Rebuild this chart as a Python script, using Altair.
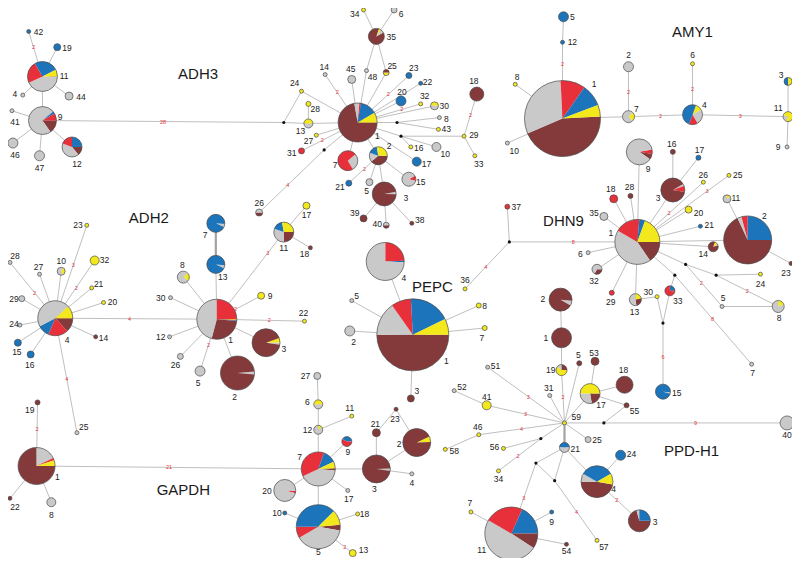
import math
import altair as alt
import pandas as pd

# Haplotype categories (pie slice colours)
CATS = ["B", "G", "R", "U", "Y"]
COLS = ["#843a3b", "#c9c9ca", "#e8303a", "#1c74ba", "#f3e81c"]

# node rows: (id, x, y, radius, label_x, label_y, start_angle_deg, slices)
ADH3 = [
    ("42", 23, 26, 2, 33, 27, 90, "U"), ("19", 52, 42, 3.5, 62, 43, 90, "U"),
    ("11", 37, 72, 15, 59, 71, 90, "B3 G152 R85 U93 Y27"), ("4", 17, 91, 2, 9, 90, 90, "G"),
    ("44", 64, 92, 4, 76, 93, 90, "G"), ("9", 37, 117, 14, 55, 113, 90, "B55 G265 U10 R30"),
    ("41", 6, 107, 2, 9, 118, 90, "G"), ("46", 7, 140, 5, 9, 152, 90, "G"),
    ("47", 34, 153, 5, 34, 165, 90, "G"), ("12", 67, 144, 10, 72, 161, 90, "B50 G150 R70 U90"),
    ("24", 300, 87, 2, 293, 79, 90, "Y"), ("28", 307, 100, 2.5, 314, 105, 90, "Y"),
    ("13", 307, 120, 4.5, 299, 128, 90, "G180 Y180"), ("27", 315, 132, 2, 307, 138, 90, "Y"),
    ("31", 300, 148, 3, 290, 150, 90, "R"), ("14", 324, 70, 2, 323, 62, 90, "G"),
    ("45", 351, 75, 4, 350, 64, 90, "G"), ("48", 366, 66, 2, 372, 72, 90, "G"),
    ("35", 376, 31, 8, 391, 32, 60, "B320 Y15 G25"), ("34", 363, 4, 2, 354, 8, 90, "Y"),
    ("6", 394, 4, 3, 401, 8, 90, "G"), ("25", 386, 68, 3, 392, 61, 90, "Y180 B180"),
    ("1", 357, 119, 19.5, 377, 133, 90, "B260 G15 R5 U50 Y30"),
    ("7", 347, 158, 10, 334, 162, 50, "G100 R260"),
    ("2", 378, 153, 9, 389, 143, 90, "B140 G60 U60 Y100"),
    ("21", 348, 181, 3, 339, 185, 90, "U"), ("5", 369, 180, 3.5, 366, 189, 90, "G"),
    ("3", 384, 192, 12, 406, 196, 80, "G12 B348"), ("23", 409, 71, 3, 414, 63, 90, "U"),
    ("22", 421, 79, 2, 428, 78, 90, "U"), ("20", 401, 97, 5, 402, 88, 90, "U"),
    ("32", 421, 100, 2, 425, 92, 90, "Y"), ("30", 435, 102, 4, 445, 102, 90, "G200 Y160"),
    ("8", 440, 114, 2, 447, 115, 90, "G"), ("43", 439, 126, 2, 447, 126, 90, "Y"),
    ("29", 465, 133, 2, 475, 132, 90, "Y"), ("18", 478, 90, 7, 475, 77, 90, "B"),
    ("33", 476, 153, 2, 480, 161, 90, "Y"), ("16", 411, 144, 2, 419, 145, 90, "Y"),
    ("10", 437, 144, 4.5, 446, 151, 90, "G"), ("17", 417, 159, 4.5, 427, 161, 90, "U"),
    ("15", 409, 177, 7, 421, 180, 60, "R45 G315"), ("39", 363, 217, 3.5, 354, 211, 90, "B"),
    ("40", 386, 224, 3, 377, 223, 90, "B180 G180"), ("38", 412, 222, 2, 420, 219, 90, "B"),
    ("26", 257, 211, 3.5, 257, 201, 90, "B180 G180"),
]
ADH3_MED = [("m1", 282, 119), ("m2", 323, 147), ("m3", 401, 133), ("m4", 397, 119)]
ADH3_EDGES = [
    ("11", "42", "2", 0.65), ("11", "19"), ("11", "4"), ("11", "44"), ("11", "9"),
    ("9", "41"), ("9", "46"), ("9", "47"), ("9", "12"), ("9", "m1", "28", 0.5),
    ("m1", "24"), ("m1", "13"), ("24", "1"), ("13", "28"), ("13", "1"),
    ("1", "27"), ("1", "31", "2", 0.63), ("1", "m2"), ("m2", "26", "4", 0.56),
    ("1", "14", "2", 0.63), ("1", "45"), ("1", "48"), ("48", "35"), ("1", "25"), ("25", "35"),
    ("35", "34"), ("35", "6"), ("1", "23", "2", 0.6), ("1", "22"), ("1", "20"),
    ("1", "32", "2", 0.7), ("1", "30"), ("1", "m4"), ("m4", "8"), ("m4", "43"), ("1", "m3"),
    ("m3", "29"), ("29", "18", "2", 0.5), ("29", "33"), ("m3", "10"), ("m3", "16"),
    ("1", "17"), ("1", "2"), ("2", "15"), ("2", "3"), ("2", "21", "2", 0.47), ("2", "5"),
    ("1", "7"), ("3", "39"), ("3", "40"), ("3", "38"),
]

ADH2 = [
    ("4", 50, 319, 17.5, 62, 341, 90, "B47 R66 U40 G165 Y42"),
    ("23", 82, 224, 2, 73, 224, 90, "Y"), ("10", 56, 271, 4, 56, 261, 30, "Y120 G240"),
    ("32", 90, 260, 4.5, 100, 260, 90, "Y"), ("21", 87, 288, 2, 94, 284, 90, "Y"),
    ("20", 99, 303, 2, 108, 302, 90, "Y"), ("14", 91, 338, 2, 99, 339, 90, "B"),
    ("28", 4, 262, 2, 9, 255, 90, "G"), ("27", 34, 274, 2, 33, 267, 90, "G"),
    ("29", 16, 299, 3, 8, 299, 90, "G"), ("24", 14, 326, 2, 8, 325, 90, "G"),
    ("15", 12, 344, 3.5, 11, 354, 90, "U"), ("16", 25, 356, 3.5, 24, 367, 90, "U"),
    ("25", 72, 436, 2, 79, 430, 90, "G"),
    ("1", 214, 320, 20, 228, 341, 90, "Y3 U2 B100 G165 R90"),
    ("7", 213, 222, 9, 202, 234, 95, "G20 U340"), ("13", 213, 264, 9, 220, 277, 95, "G20 U340"),
    ("11", 282, 231, 10, 282, 247, 90, "B90 G110 U60 Y100"),
    ("17", 305, 204, 3.5, 305, 214, 90, "Y"), ("18", 309, 247, 2, 303, 253, 90, "B"),
    ("9", 259, 296, 3.5, 268, 296, 90, "Y"), ("22", 303, 322, 2, 302, 314, 90, "Y"),
    ("3", 264, 344, 14, 282, 350, 70, "Y20 G8 B332"), ("2", 235, 375, 17, 232, 399, 85, "G10 B350"),
    ("8", 180, 277, 6, 179, 265, 45, "Y80 G280"), ("30", 167, 298, 2, 157, 298, 90, "G"),
    ("12", 166, 338, 2, 157, 338, 90, "G"), ("26", 177, 358, 3, 172, 367, 90, "G"),
    ("5", 197, 373, 5, 195, 385, 90, "G"),
]
ADH2_MED = []
ADH2_EDGES = [
    ("4", "23", "3", 0.57), ("4", "10"), ("4", "32", "2", 0.53), ("4", "21"), ("4", "20"),
    ("4", "14"), ("4", "28", "2", 0.46), ("4", "27"), ("4", "29"), ("4", "24"), ("4", "15"),
    ("4", "16"), ("4", "25", "4", 0.53), ("4", "1", "4", 0.46), ("1", "8"), ("1", "30"),
    ("1", "12"), ("1", "26"), ("1", "5", "2", 0.5), ("1", "2"), ("1", "3"), ("1", "9", "2", 0.42),
    ("1", "22", "2", 0.6), ("1", "11", "3", 0.76), ("1", "13"), ("13", "7", None, 0.5, 2.2),
    ("11", "17"), ("11", "18"),
]

AMY1 = [
    ("5", 566, 11, 5, 575, 11, 90, "U"), ("12", 565, 37, 2, 575, 37, 90, "U"),
    ("1", 565, 115, 38, 597, 80, 87, "B160 G110 R38 U34 Y18"),
    ("8", 517, 80, 2, 519, 72, 90, "Y"), ("10", 509, 140, 2, 516, 148, 90, "G"),
    ("7", 632, 113, 6, 640, 105, 45, "Y90 G270"), ("2", 632, 62, 5, 632, 50, 90, "G"),
    ("4", 697, 111, 10, 709, 101, 20, "Y40 G90 R50 U180"), ("6", 697, 59, 2, 697, 50, 90, "Y"),
    ("11", 794, 113, 5, 784, 104, 200, "G90 Y270"), ("3", 794, 77, 4, 787, 70, 0, "Y180 U180"),
    ("9", 793, 144, 2, 784, 144, 90, "G"),
]
AMY1_MED = []
AMY1_EDGES = [
    ("5", "12"), ("12", "1", "2", 0.28), ("1", "8"), ("1", "10"), ("1", "7"),
    ("7", "2", "2", 0.5), ("7", "4", "2", 0.5), ("4", "6", "2", 0.5), ("4", "11", "3", 0.5),
    ("11", "3"), ("11", "9"),
]

DHN9 = [
    ("9", 643, 149, 13, 652, 167, 80, "R20 B25 G315"), ("16", 677, 149, 2.5, 676, 141, 90, "B"),
    ("17", 703, 155, 2.5, 704, 147, 90, "U"), ("3", 677, 188, 12, 662, 196, 60, "G10 R30 B320"),
    ("26", 708, 180, 2, 708, 173, 90, "Y"), ("25", 734, 173, 2, 743, 173, 90, "Y"),
    ("18", 617, 197, 4, 614, 187, 90, "R"), ("28", 634, 194, 2.5, 633, 185, 90, "B"),
    ("35", 607, 215, 4, 597, 211, 90, "G"),
    ("1", 641, 241, 22.5, 614, 232, 90, "B56 G154 R65 U15 Y70"),
    ("2", 753, 239, 24, 770, 215, 90, "B245 G10 R15 U90"),
    ("11", 732, 197, 4, 741, 196, 0, "Y60 G300"), ("20", 693, 208, 3.5, 703, 211, 90, "Y"),
    ("21", 705, 225, 2, 714, 224, 90, "U"), ("14", 718, 246, 5, 708, 253, 20, "Y40 G15 B305"),
    ("23", 797, 263, 2, 792, 273, 90, "B"), ("24", 766, 274, 2, 766, 284, 90, "Y"),
    ("5", 727, 307, 2, 728, 298, 90, "G"), ("8", 784, 307, 6, 785, 319, 0, "Y70 G290"),
    ("7", 757, 366, 2, 758, 375, 90, "G"), ("33", 674, 291, 5, 682, 301, 0, "U80 B20 R260"),
    ("30", 661, 297, 2, 652, 292, 90, "Y"), ("13", 639, 300, 6, 638, 313, 0, "Y80 B90 G190"),
    ("29", 615, 293, 2.5, 614, 302, 90, "R"), ("32", 600, 269, 5, 597, 281, 90, "B120 G240"),
    ("6", 591, 252, 2, 583, 253, 90, "G"), ("36", 466, 289, 2, 466, 280, 90, "Y"),
    ("37", 509, 205, 2.5, 518, 205, 90, "R"),
]
DHN9_MED = [("m5", 690, 264), ("m6", 721, 275), ("m7", 679, 275), ("m8", 667, 324), ("m9", 511, 241)]
DHN9_EDGES = [
    ("m9", "37"), ("m9", "36", "4", 0.53), ("m9", "1", "8", 0.5), ("1", "35"), ("1", "18"),
    ("1", "28"), ("1", "3"), ("3", "16"), ("3", "17"), ("1", "9"), ("1", "25", "3", 0.76),
    ("1", "26", "2", 0.48), ("1", "20"), ("1", "21"), ("1", "14"), ("1", "2"), ("2", "11"),
    ("2", "23"), ("1", "m5"), ("m5", "m6"), ("m6", "24"), ("m6", "8", "2", 0.5),
    ("m5", "5", "2", 0.43), ("5", "8"), ("1", "m7"), ("m7", "7", "8", 0.49), ("m7", "33"),
    ("33", "m8"), ("30", "m8"), ("13", "30"), ("1", "13"), ("1", "29"), ("1", "32"), ("1", "6"),
]

PEPC = [
    ("4", 385, 261, 19, 404, 278, 0, "R88 U4 G268"),
    ("1", 413, 336, 36, 447, 363, 90, "B180 G55 R32 U67 Y26"),
    ("5", 351, 301, 2, 356, 296, 90, "G"), ("2", 349, 332, 5, 353, 343, 90, "G"),
    ("8", 480, 306, 2.5, 486, 306, 90, "Y"), ("7", 486, 329, 2.5, 483, 339, 90, "Y"),
    ("3", 411, 401, 3.5, 417, 393, 90, "B"),
]
PEPC_MED = []
PEPC_EDGES = [("1", "4"), ("1", "5"), ("1", "2"), ("1", "8"), ("1", "7"), ("1", "3")]

GAPDH = [
    ("1", 31, 470, 18.5, 52, 481, 90, "B270 G64 R8 Y18"),
    ("19", 32, 405, 2.5, 24, 413, 90, "B"), ("22", 4, 503, 2, 9, 512, 90, "B"),
    ("8", 46, 507, 4.5, 46, 520, 90, "G"),
    ("7", 317, 473, 17, 298, 461, 88, "B7 G150 R135 U45 Y23"),
    ("27", 316, 378, 3.5, 304, 378, 90, "G"), ("6", 317, 407, 4.5, 306, 405, 90, "G180 Y180"),
    ("11", 351, 419, 2, 349, 411, 90, "Y"), ("12", 317, 433, 4.5, 306, 433, 0, "Y60 G300"),
    ("9", 346, 445, 5, 347, 456, 300, "U150 R210"), ("20", 283, 495, 11, 265, 496, 92, "R12 G348"),
    ("17", 347, 495, 2, 348, 504, 90, "G"),
    ("5", 317, 532, 22, 317, 558, 85, "B15 G140 R30 U135 Y40"),
    ("10", 283, 518, 2, 275, 518, 90, "U"), ("18", 357, 519, 2, 364, 519, 90, "Y"),
    ("13", 352, 559, 3.5, 363, 556, 90, "Y"), ("3", 376, 473, 14, 374, 493, 88, "G10 B350"),
    ("21", 376, 436, 4, 375, 427, 90, "B"), ("23", 396, 412, 2, 395, 422, 90, "B"),
    ("2", 417, 446, 14, 399, 448, 65, "Y23 B337"), ("4", 412, 478, 2, 412, 487, 90, "G"),
]
GAPDH_MED = []
GAPDH_EDGES = [
    ("1", "19", "2", 0.58), ("1", "22"), ("1", "8"), ("1", "7", "21", 0.47), ("7", "12"),
    ("12", "6"), ("6", "27"), ("12", "11"), ("7", "9"), ("7", "20"), ("7", "17"), ("7", "5"),
    ("5", "10"), ("5", "18"), ("5", "13", "2", 0.77), ("7", "3"), ("3", "21"), ("21", "23"),
    ("23", "2"), ("3", "2"), ("3", "4"),
]

PPDH1 = [
    ("2", 563, 300, 11.5, 545, 299, 95, "G25 B335"), ("1", 564, 339, 10, 548, 339, 90, "B"),
    ("19", 564, 372, 5.5, 553, 372, 0, "B90 Y220 G50"), ("5", 582, 365, 2.5, 581, 357, 90, "B"),
    ("53", 598, 363, 4, 597, 355, 90, "B"), ("17", 593, 396, 10, 604, 408, 90, "B80 G100 Y180"),
    ("18", 628, 387, 8.5, 627, 372, 90, "B"), ("55", 630, 408, 2.5, 638, 414, 90, "B"),
    ("15", 667, 394, 7.5, 681, 395, 95, "G12 U348"), ("59", 567, 426, 2, 579, 420, 90, "Y"),
    ("40", 793, 426, 7, 793, 438, 90, "G"), ("25", 591, 443, 3, 600, 443, 90, "G"),
    ("31", 552, 398, 2, 551, 390, 90, "G"), ("52", 455, 393, 2, 463, 389, 90, "G"),
    ("51", 489, 369, 2, 497, 368, 90, "G"), ("41", 488, 408, 4.5, 488, 399, 90, "Y"),
    ("46", 480, 438, 2, 479, 430, 90, "Y"), ("58", 446, 453, 2, 455, 455, 90, "Y"),
    ("56", 505, 452, 2, 496, 451, 90, "Y"), ("34", 500, 475, 2, 500, 483, 90, "Y"),
    ("21", 567, 451, 5, 578, 453, 270, "U180 G180"),
    ("4", 600, 486, 16, 617, 494, 100, "B170 G30 U120 Y40"),
    ("24", 624, 459, 5, 635, 458, 90, "U"), ("3", 643, 526, 11, 659, 527, 90, "B255 G15 U90"),
    ("11", 513, 539, 26.5, 483, 556, 24, "U66 B33 G177 R84"),
    ("7", 472, 517, 2, 471, 508, 90, "Y"), ("9", 554, 517, 2, 554, 527, 90, "U"),
    ("54", 569, 550, 2, 569, 557, 90, "B"), ("57", 600, 546, 2, 607, 553, 90, "Y"),
]
PPDH1_MED = [("m10", 607, 426), ("m11", 543, 442), ("m12", 538, 467), ("m13", 557, 485)]
PPDH1_EDGES = [
    ("2", "1"), ("1", "19"), ("19", "59", "2", 0.5), ("59", "5"), ("17", "53"), ("59", "17"),
    ("17", "18"), ("17", "55"), ("55", "m10"), ("59", "m10"), ("m10", "40", "9", 0.5),
    ("59", "31"), ("59", "51", "3", 0.47), ("52", "41"), ("41", "59", "3", 0.5), ("58", "46"),
    ("46", "59", "4", 0.5), ("56", "m11"), ("34", "m11", "2", 0.46), ("m11", "59"),
    ("59", "25"), ("59", "21", None, 0.5, 2.2), ("21", "m12"), ("21", "m13"), ("m12", "m13"),
    ("m12", "11", "3", 0.49), ("m13", "57", "4", 0.52), ("21", "4"), ("11", "7"), ("11", "9"),
    ("11", "54"), ("4", "24"), ("4", "3", "2", 0.47),
]

# link from the DHN9 network's median vector down to PPD-H1 haplotype 15
CROSS_EDGES = [("DHN9:m8", "PPD-H1:15", "6", 0.5)]

TITLES = ["ADH3", "ADH2", "AMY1", "DHN9", "PEPC", "GAPDH", "PPD-H1"]
TITLE_X = [195, 145, 697, 566, 433, 180, 696]
TITLE_Y = [69, 217, 27, 220, 287, 495, 455]

GENES = [
    ("ADH3", ADH3, ADH3_MED, ADH3_EDGES), ("ADH2", ADH2, ADH2_MED, ADH2_EDGES),
    ("AMY1", AMY1, AMY1_MED, AMY1_EDGES), ("DHN9", DHN9, DHN9_MED, DHN9_EDGES),
    ("PEPC", PEPC, PEPC_MED, PEPC_EDGES), ("GAPDH", GAPDH, GAPDH_MED, GAPDH_EDGES),
    ("PPD-H1", PPDH1, PPDH1_MED, PPDH1_EDGES),
]

# ---- build tables ----
node_rows, slice_rows, med_rows, edge_rows = [], [], [], []
pos = {}
for gene, nodes, meds, edges in GENES:
    for nid, x, y, r, lx, ly, start, sl in nodes:
        key = f"{gene}:{nid}"
        pos[key] = (x, y)
        node_rows.append(dict(key=key, label=nid, x=x, y=y, r=r, lx=lx, ly=ly))
        for i, tok in enumerate(sl.split()):
            val = float(tok[1:]) if len(tok) > 1 else 1.0
            slice_rows.append(dict(key=key, x=x, y=y, r=r, start=start, order=i, cat=tok[0], val=val))
    for mid, x, y in meds:
        pos[f"{gene}:{mid}"] = (x, y)
        med_rows.append(dict(x=x, y=y))
    for e in edges:
        a, b = e[0], e[1]
        lab = e[2] if len(e) > 2 else None
        t = e[3] if len(e) > 3 else 0.5
        w = e[4] if len(e) > 4 else 0.7
        edge_rows.append((f"{gene}:{a}", f"{gene}:{b}", lab, t, w))
for a, b, lab, t in CROSS_EDGES:
    edge_rows.append((a, b, lab, t, 0.7))

edges_df = pd.DataFrame([
    dict(x=pos[a][0], y=pos[a][1], x2=pos[b][0], y2=pos[b][1], lab=lab or "", t=t, w=w)
    for a, b, lab, t, w in edge_rows
])
nodes_df = pd.DataFrame(node_rows)
slices_df = pd.DataFrame(slice_rows)
meds_df = pd.DataFrame(med_rows)
titles_df = pd.DataFrame(dict(text=TITLES, x=TITLE_X, y=TITLE_Y))

XS = alt.Scale(domain=[2, 798], nice=False, zero=False)
YS = alt.Scale(domain=[2, 564], nice=False, zero=False, reverse=True)
FONT = "Liberation Sans"


def X(f):
    return alt.X(f"{f}:Q", scale=XS, axis=None)


def Y(f):
    return alt.Y(f"{f}:Q", scale=YS, axis=None)


edges = alt.Chart(edges_df).mark_rule(color="#a3a3a3").encode(
    x=X("x"), y=Y("y"), x2="x2:Q", y2="y2:Q",
    strokeWidth=alt.StrokeWidth("w:Q", scale=None),
)

mut = alt.Chart(edges_df).transform_filter("datum.lab != ''").transform_calculate(
    mx="datum.x + (datum.x2 - datum.x) * datum.t",
    my="datum.y + (datum.y2 - datum.y) * datum.t",
).mark_text(fontSize=5.5, color="#e8303a", font=FONT).encode(
    x=X("mx"), y=Y("my"), text="lab:N"
)

pies = alt.Chart(slices_df).transform_joinaggregate(
    total="sum(val)", groupby=["key"]
).transform_window(
    cum="sum(val)", groupby=["key"], sort=[alt.SortField("order")], frame=[None, 0]
).transform_calculate(
    t2="datum.start * PI / 180 + datum.cum / datum.total * 2 * PI",
    t1="datum.start * PI / 180 + (datum.cum - datum.val) / datum.total * 2 * PI",
).mark_arc().encode(
    x=X("x"), y=Y("y"),
    theta=alt.Theta("t1:Q", scale=None, stack=None), theta2="t2:Q",
    radius=alt.Radius("r:Q", scale=None, stack=None),
    color=alt.Color("cat:N", scale=alt.Scale(domain=CATS, range=COLS), legend=None),
)

rings = alt.Chart(nodes_df).mark_arc(
    theta=0, theta2=2 * math.pi, fillOpacity=0, stroke="#4a4a4a", strokeWidth=0.7
).encode(x=X("x"), y=Y("y"), radius=alt.Radius("r:Q", scale=None, stack=None))

meds = alt.Chart(meds_df).mark_circle(size=10, color="#111111", opacity=1).encode(
    x=X("x"), y=Y("y")
)

labels = alt.Chart(nodes_df).mark_text(fontSize=8.5, color="#222222", font=FONT).encode(
    x=X("lx"), y=Y("ly"), text="label:N"
)

titles = alt.Chart(titles_df).mark_text(fontSize=15, color="#1a1a1a", font=FONT).encode(
    x=X("x"), y=Y("y"), text="text:N"
)

chart = alt.layer(edges, pies, rings, meds, mut, labels, titles).properties(
    width=784, height=550, padding=0,
    autosize=alt.AutoSizeParams(type="none"),
).configure_view(stroke=None)

chart.save("out.html", embed_options={"renderer": "svg", "actions": False})
